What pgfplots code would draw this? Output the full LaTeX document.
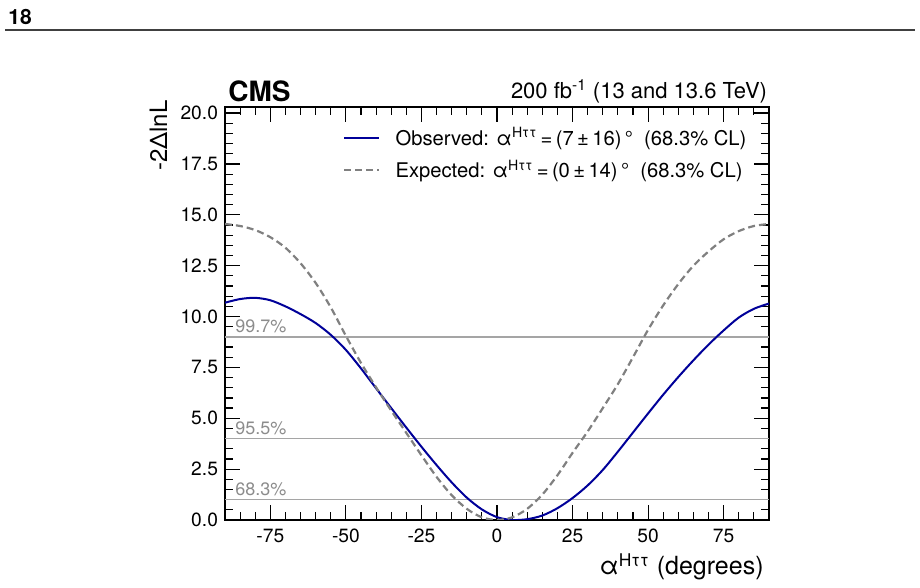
\documentclass[border=0pt]{standalone}
\usepackage{pgfplots}
\pgfplotsset{compat=1.18}
\usepackage{fontspec}
\setmainfont{TeX Gyre Heros}
\definecolor{obsblue}{RGB}{0,0,153}
\definecolor{expgray}{RGB}{128,128,128}
\definecolor{clgray}{RGB}{165,165,165}
\definecolor{cltext}{RGB}{140,140,140}

% -2 Delta lnL scans versus the CP-mixing angle
\pgfplotstableread{
angle  nll
-90 10.68
-85 10.86
-80 10.92
-75 10.80
-70 10.50
-65 10.12
-60 9.68
-55 9.10
-50 8.36
-45 7.45
-40 6.47
-35 5.50
-30 4.54
-25 3.60
-20 2.70
-15 1.85
-10 1.10
-5 0.52
0 0.14
5 0.00
10 0.04
15 0.22
20 0.58
25 1.08
30 1.70
35 2.46
40 3.36
45 4.30
50 5.24
55 6.16
60 7.03
65 7.85
70 8.62
75 9.32
80 9.95
85 10.38
90 10.64
}\observed

\pgfplotstableread{
angle  nll
-90 14.55
-85 14.45
-80 14.25
-75 13.90
-70 13.38
-65 12.62
-60 11.65
-55 10.45
-50 9.05
-45 7.72
-40 6.52
-35 5.38
-30 4.28
-25 3.18
-20 2.12
-15 1.22
-10 0.55
-5 0.13
0 0.00
5 0.13
10 0.55
15 1.25
20 2.20
25 3.30
30 4.35
35 5.50
40 6.68
45 8.00
50 9.35
55 10.55
60 11.60
65 12.50
70 13.20
75 13.80
80 14.20
85 14.45
90 14.55
}\expected

\begin{document}
\begin{tikzpicture}[x=1pt,y=1pt]
\useasboundingbox (0,0) rectangle (460,294);
% page header
\node[anchor=base west, inner sep=0pt, font=\fontsize{10.5}{12}\selectfont\bfseries] at (4,281.5) {18};
\draw[line width=0.8pt, black!75] (2.5,279) -- (457.5,279);

\begin{axis}[
  name=ax, at={(112.5pt,34pt)}, anchor=south west,
  scale only axis, width=272pt, height=206.5pt,
  xmin=-90, xmax=90, ymin=0, ymax=20.3,
  xtick={-75,-50,...,75}, minor xtick={-85,-80,...,85},
  ytick={0,2.5,...,20}, minor ytick={0.5,1,...,20},
  tick align=inside, xtick pos=both, ytick pos=both,
  major tick length=7.5pt, minor tick length=4pt,
  axis line style={line width=1pt},
  every tick/.style={line width=0.6pt, black},
  ticklabel style={font=\fontsize{9.6}{11}\selectfont},
  /pgf/number format/assume math mode=true,
  yticklabel style={/pgf/number format/.cd, fixed, fixed zerofill, precision=1},
  xticklabel style={yshift=-1pt},
  legend style={at={(0.2169,0.945)}, anchor=north west, draw=none, fill=none,
    inner sep=0pt, font=\fontsize{10.1}{12}\selectfont, row sep=6.2pt,
    nodes={inner sep=0pt, text height=7.5pt, text depth=2.5pt, anchor=base west}},
  legend cell align=left,
  legend image code/.code={\draw[#1] (0pt,3.6pt) -- (17.5pt,3.6pt);},
  /tikz/every odd column/.append style={column sep=7.5pt},
]
% confidence-level reference lines
\addplot[forget plot, clgray, line width=0.7pt] coordinates {(-90,1) (90,1)};
\addplot[forget plot, clgray, line width=0.7pt] coordinates {(-90,4) (90,4)};
\addplot[forget plot, clgray, line width=0.7pt] coordinates {(-90,9) (90,9)};

\addplot[obsblue, line width=1pt, smooth] table[x=angle, y=nll] {\observed};
\addlegendentry{Observed: α\textsuperscript{Hττ}\,=\,(7\,±\,16)\,°\ \ (68.3\% CL)}
\addplot[expgray, line width=1.1pt, smooth, dash pattern=on 3.5pt off 2pt] table[x=angle, y=nll] {\expected};
\addlegendentry{Expected: α\textsuperscript{Hττ}\,=\,(0\,±\,14)\,°\ \ (68.3\% CL)}

\node[anchor=base west, inner sep=0pt, text=cltext, font=\fontsize{9}{10}\selectfont] at (axis cs:-86.7,9.22) {99.7\%};
\node[anchor=base west, inner sep=0pt, text=cltext, font=\fontsize{9}{10}\selectfont] at (axis cs:-86.7,4.22) {95.5\%};
\node[anchor=base west, inner sep=0pt, text=cltext, font=\fontsize{9}{10}\selectfont] at (axis cs:-86.7,1.22) {68.3\%};
\end{axis}

% titles and axis labels
\node[anchor=base west, inner sep=0pt, font=\fontsize{14}{16}\selectfont\bfseries] at ([xshift=1.5pt,yshift=2.75pt]ax.north west) {CMS};
\node[anchor=base east, inner sep=0pt, font=\fontsize{11}{13}\selectfont] at ([xshift=-0.8pt,yshift=4.3pt]ax.north east) {200 fb\textsuperscript{-1} (13 and 13.6 TeV)};
\node[anchor=base east, inner sep=0pt, font=\fontsize{12.5}{14}\selectfont] at ([xshift=-2.5pt,yshift=-27.5pt]ax.south east) {α\textsuperscript{Hττ} (degrees)};
\node[rotate=90, anchor=base east, inner sep=0pt, font=\fontsize{12}{14}\selectfont] at ([xshift=-29pt,yshift=3.5pt]ax.north west) {-2ΔlnL};
\end{tikzpicture}
\end{document}
